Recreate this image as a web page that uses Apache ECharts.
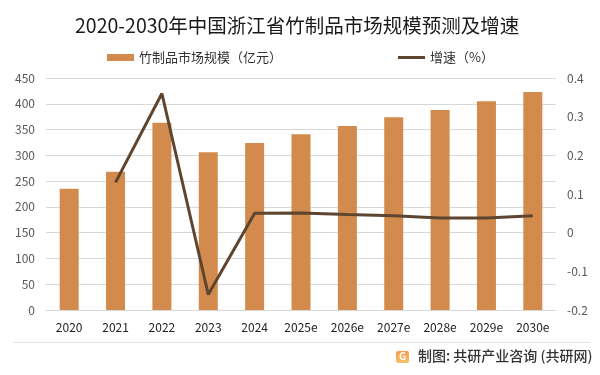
<!DOCTYPE html>
<html>
<head>
<meta charset="utf-8">
<script src="https://cdn.jsdelivr.net/npm/echarts@6/dist/echarts.min.js"></script>
<style>
  html, body { margin: 0; padding: 0; background: #fff; }
  #chart { width: 600px; height: 375px; }
</style>
</head>
<body>
<div id="chart"></div>
<script>
// 年份（e 为预测值）
var years = ['2020', '2021', '2022', '2023', '2024', '2025e', '2026e', '2027e', '2028e', '2029e', '2030e'];
// 竹制品市场规模（亿元）
var scaleValues = [235, 268, 363, 306, 324, 341, 357, 374, 388, 405, 423];
// 增速
var growthValues = [null, 0.13, 0.36, -0.16, 0.05, 0.051, 0.047, 0.044, 0.038, 0.038, 0.044];

var FONT = '"Noto Sans CJK SC", "Noto Sans", sans-serif';

var chart = echarts.init(document.getElementById('chart'));

var option = {
  backgroundColor: '#fff',
  animation: false,
  textStyle: { fontFamily: FONT },
  title: {
    text: '2020-2030年中国浙江省竹制品市场规模预测及增速',
    left: 70,
    top: 11,
    textStyle: {
      fontFamily: FONT,
      fontSize: 19.5,
      fontWeight: 'normal',
      color: '#1a1a1a'
    }
  },
  legend: {
    left: 107,
    top: 51,
    padding: 0,
    itemGap: 116,
    itemWidth: 27,
    itemHeight: 7,
    textStyle: { fontFamily: FONT, fontSize: 13, color: '#333' },
    data: [
      { name: '竹制品市场规模（亿元）', icon: 'rect' },
      // 图例里只画一条线，不带圆点
      { name: '增速（%）', icon: 'path://M0,0L27,0L27,3L0,3Z' }
    ]
  },
  grid: {
    left: 46,
    right: 44,
    top: 78,
    bottom: 65
  },
  xAxis: {
    type: 'category',
    data: years,
    axisLine: { lineStyle: { color: '#d9d9d9', width: 1 } },
    axisTick: { show: false },
    axisLabel: { color: '#222', fontSize: 12, margin: 11, fontFamily: FONT }
  },
  yAxis: [
    {
      type: 'value',
      min: 0,
      max: 450,
      interval: 50,
      axisLine: { show: false },
      axisTick: { show: false },
      axisLabel: { color: '#595959', fontSize: 12, margin: 11, fontFamily: FONT },
      splitLine: { lineStyle: { color: '#d9d9d9', width: 1 } }
    },
    {
      type: 'value',
      min: -0.2,
      max: 0.4,
      interval: 0.1,
      axisLine: { show: false },
      axisTick: { show: false },
      axisLabel: {
        color: '#595959', fontSize: 12, margin: 11, fontFamily: FONT,
        formatter: function (v) { return String(Math.round(v * 10) / 10); }
      },
      splitLine: { show: false }
    }
  ],
  series: [
    {
      name: '竹制品市场规模（亿元）',
      type: 'bar',
      yAxisIndex: 0,
      data: scaleValues,
      barWidth: '41%',
      itemStyle: { color: '#D38B4D' }
    },
    {
      name: '增速（%）',
      type: 'line',
      yAxisIndex: 1,
      data: growthValues,
      symbol: 'none',
      connectNulls: false,
      lineStyle: { color: '#5E4530', width: 3 },
      itemStyle: { color: '#5E4530' }
    }
  ],
  graphic: [
    {
      type: 'line',
      shape: { x1: 13, y1: 342.5, x2: 590, y2: 342.5 },
      style: { stroke: '#e3e3e3', lineWidth: 1 }
    },
    {
      type: 'rect',
      shape: { x: 396, y: 351, width: 13, height: 12, r: 2 },
      style: {
        fill: new echarts.graphic.LinearGradient(0, 0, 0, 1, [
          { offset: 0, color: '#f79a4a' },
          { offset: 1, color: '#f5c26b' }
        ])
      }
    },
    {
      type: 'text',
      left: 399,
      top: 351,
      style: { text: 'G', fill: '#fff', font: 'bold 10px ' + FONT }
    },
    {
      type: 'text',
      left: 418,
      top: 349,
      style: {
        text: '制图: 共研产业咨询 (共研网)',
        fill: '#333',
        font: '500 14px ' + FONT
      }
    }
  ]
};

chart.setOption(option);
</script>
</body>
</html>
